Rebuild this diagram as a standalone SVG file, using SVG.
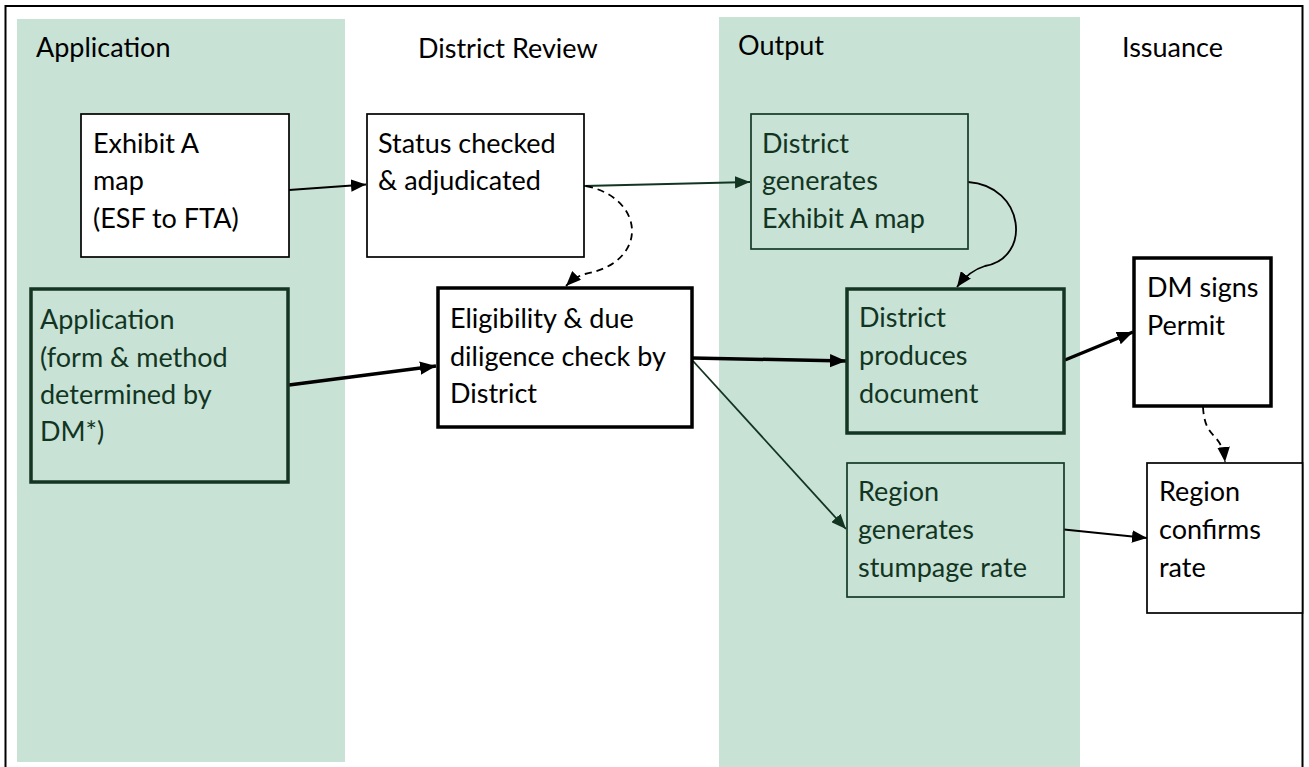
<svg xmlns="http://www.w3.org/2000/svg" width="1309" height="767" viewBox="0 0 1309 767">
  <style>
    text { font-family: "Lato", "Liberation Sans", sans-serif; font-size: 27px; }
    .hdr { fill: #000; }
    .blk { fill: #000; }
    .grn { fill: #123522; }
    .band { fill: #c8e2d6; }
    .box-thin { fill: #fff; stroke: #000; stroke-width: 1.7; }
    .box-thin-g { fill: none; stroke: #163a27; stroke-width: 1.7; }
    .box-thick { fill: #fff; stroke: #000; stroke-width: 3.5; }
    .box-thick-g { fill: none; stroke: #143522; stroke-width: 3.5; }
    .wire { fill: none; stroke: #000; stroke-width: 1.8; }
    .wire-g { fill: none; stroke: #123522; stroke-width: 1.8; }
    .wire-bold { fill: none; stroke: #000; stroke-width: 3.5; }
    .dash { stroke-dasharray: 7 5; }
  </style>
  <defs>
    <marker id="arrow" viewBox="0 0 12 10" refX="12" refY="5" markerWidth="15" markerHeight="12.5" markerUnits="userSpaceOnUse" orient="auto">
      <path d="M0,0 L12,5 L0,10 Z" fill="#000"/>
    </marker>
    <marker id="arrow-g" viewBox="0 0 12 10" refX="12" refY="5" markerWidth="15" markerHeight="12.5" markerUnits="userSpaceOnUse" orient="auto">
      <path d="M0,0 L12,5 L0,10 Z" fill="#123522"/>
    </marker>
    <marker id="arrow-bold" viewBox="0 0 12 10" refX="12" refY="5" markerWidth="16" markerHeight="15" markerUnits="userSpaceOnUse" orient="auto">
      <path d="M0,0 L12,5 L0,10 Z" fill="#000"/>
    </marker>
  </defs>

  <rect width="1309" height="767" fill="#fff"/>

  <!-- swimlane backgrounds -->
  <g id="lanes">
    <rect class="band" x="17" y="19" width="328" height="743"/>
    <rect class="band" x="719" y="17" width="361" height="760"/>
  </g>

  <!-- outer frame (open at the bottom) -->
  <path d="M5.5,767 V6 H1302.5 V767" fill="none" stroke="#000" stroke-width="2"/>

  <!-- lane headings -->
  <g id="headings">
    <text class="hdr" x="36" y="57">Application</text>
    <text class="hdr" x="418" y="58">District Review</text>
    <text class="hdr" x="738" y="55">Output</text>
    <text class="hdr" x="1122" y="57">Issuance</text>
  </g>

  <!-- connectors -->
  <g id="connectors">
    <path class="wire" d="M289,190 L366,184.5" marker-end="url(#arrow)"/>
    <path class="wire-g" d="M584,186 L750,182" marker-end="url(#arrow-g)"/>
    <path class="wire dash" d="M586,186 C645,198 650,262 585,274 C578,276 572,280 566,286" marker-end="url(#arrow)"/>
    <path class="wire-bold" d="M289,385 L436,366" marker-end="url(#arrow-bold)"/>
    <path class="wire-bold" d="M692,358 L846,361" marker-end="url(#arrow-bold)"/>
    <path class="wire-g" d="M693,361 L846,529" marker-end="url(#arrow-g)"/>
    <path class="wire" d="M968,182 C1025,186 1032,258 985,266 C975,269 965,276 957,287" marker-end="url(#arrow)"/>
    <path class="wire-bold" d="M1065,360 L1133,332" marker-end="url(#arrow-bold)"/>
    <path class="wire dash" d="M1203,407 C1205,442 1222,430 1225,462" marker-end="url(#arrow)"/>
    <path class="wire" d="M1064,529.5 L1147,538" marker-end="url(#arrow)"/>
  </g>

  <!-- nodes -->
  <g id="exhibit-a">
    <rect class="box-thin" x="81" y="114" width="208" height="143"/>
    <text class="blk" x="93" y="153">Exhibit A</text>
    <text class="blk" x="93" y="190">map</text>
    <text class="blk" x="93" y="228">(ESF to FTA)</text>
  </g>

  <g id="status-checked">
    <rect class="box-thin" x="367" y="114" width="217" height="143"/>
    <text class="blk" x="378" y="153">Status checked</text>
    <text class="blk" x="378" y="190">&amp; adjudicated</text>
  </g>

  <g id="district-generates-map">
    <rect class="box-thin-g" x="751" y="114" width="217" height="135"/>
    <text class="grn" x="762" y="153">District</text>
    <text class="grn" x="762" y="190">generates</text>
    <text class="grn" x="762" y="228">Exhibit A map</text>
  </g>

  <g id="application">
    <rect class="box-thick-g" x="31" y="289" width="257" height="193"/>
    <text class="grn" x="40" y="329">Application</text>
    <text class="grn" x="40" y="367">(form &amp; method</text>
    <text class="grn" x="40" y="404">determined by</text>
    <text class="grn" x="40" y="441">DM*)</text>
  </g>

  <g id="eligibility-check">
    <rect class="box-thick" x="438" y="288" width="254" height="139"/>
    <text class="blk" x="450" y="328">Eligibility &amp; due</text>
    <text class="blk" x="450" y="366">diligence check by</text>
    <text class="blk" x="450" y="403">District</text>
  </g>

  <g id="district-produces-document">
    <rect class="box-thick-g" x="847" y="289" width="217" height="144"/>
    <text class="grn" x="859" y="327">District</text>
    <text class="grn" x="859" y="365">produces</text>
    <text class="grn" x="859" y="403">document</text>
  </g>

  <g id="dm-signs-permit">
    <rect class="box-thick" x="1134" y="258" width="137" height="148"/>
    <text class="blk" x="1147" y="297">DM signs</text>
    <text class="blk" x="1147" y="335">Permit</text>
  </g>

  <g id="region-generates-rate">
    <rect class="box-thin-g" x="847" y="463" width="217" height="134"/>
    <text class="grn" x="858" y="501">Region</text>
    <text class="grn" x="858" y="539">generates</text>
    <text class="grn" x="858" y="577">stumpage rate</text>
  </g>

  <g id="region-confirms-rate">
    <rect class="box-thin" x="1147" y="463" width="155.5" height="150"/>
    <text class="blk" x="1159" y="501">Region</text>
    <text class="blk" x="1159" y="539">confirms</text>
    <text class="blk" x="1159" y="577">rate</text>
  </g>
</svg>
